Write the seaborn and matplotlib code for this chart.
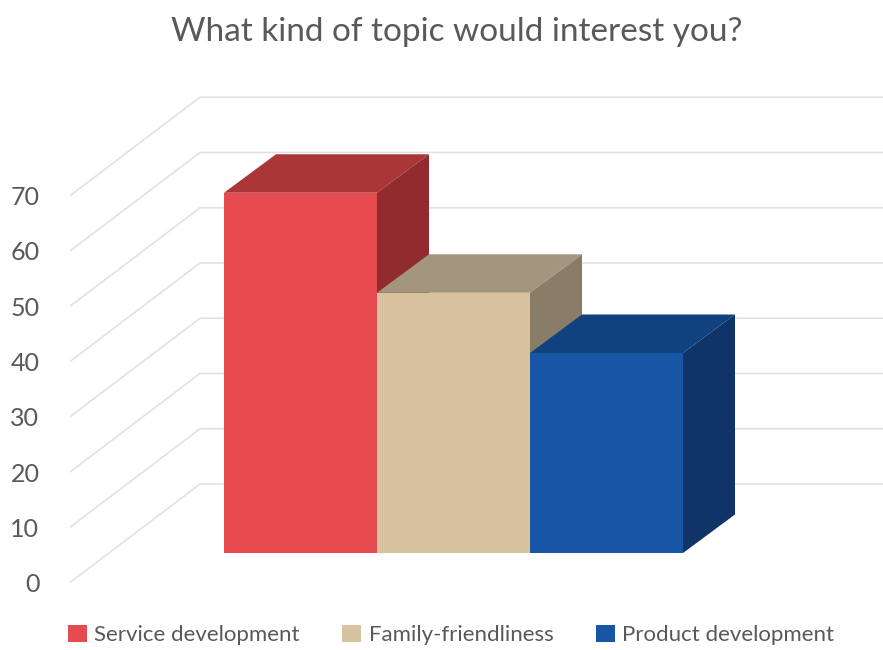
import matplotlib
matplotlib.use("Agg")
import matplotlib.pyplot as plt
import pandas as pd
import seaborn as sns

TOPICS = ["Service development", "Family-friendliness", "Product development"]
SHARES = [65.2, 47.1, 36.2]
FRONT = ["#E54B4F", "#D9C2A0", "#1656A5"]
TOPS = ["#AB3638", "#A4967E", "#11417F"]
SIDES = ["#922B2E", "#8A7D68", "#0F3568"]
TICKS = [0, 10, 20, 30, 40, 50, 60, 70]

W, H = 883, 650
TEXT = "#595959"
GRID = "#E1E1E1"
PX_Y = 5.525
PX_X = 153.0
FLOOR = 29.5 / PX_Y        # front edge of the bars above the chart's zero line
DEPTH_X = 52 / PX_X
DEPTH_Y = 38.5 / PX_Y
WALL_X = 130 / PX_X
WALL_Y = 98.5 / PX_Y

sns.set_theme(style="white")
plt.rcParams["font.family"] = ["Lato", "DejaVu Sans"]

fig = plt.figure(figsize=(W / 100, H / 100), dpi=100)
left, right, top, bottom = 70, 883, 90, 582.5
ax = fig.add_axes([left / W, 1 - bottom / H, (right - left) / W, (bottom - top) / H])

# x=0 is the centre of the first bar, which sits at pixel 300.5
x_min = (left - 300.5) / PX_X
ax.set_xlim(x_min, x_min + (right - left) / PX_X)
ax.set_ylim(0, (bottom - top) / PX_Y)

# Walls: slanted side-wall rules joined to horizontal back-wall rules
x_end = ax.get_xlim()[1]
for t in TICKS:
    ax.plot([x_min, x_min + WALL_X, x_end], [t, t + WALL_Y, t + WALL_Y],
            color=GRID, lw=1.2, zorder=1, solid_joinstyle="miter")

frame = pd.DataFrame({"topic": TOPICS, "share": SHARES})
sns.barplot(data=frame, x=range(len(TOPICS)), y="share", hue="topic", palette=FRONT,
            width=1, dodge=False, bottom=FLOOR, saturation=1, native_scale=True,
            legend=False, ax=ax, zorder=4, linewidth=0)

# Extruded top and side faces of each bar
for i, (v, ct, cs) in enumerate(zip(SHARES, TOPS, SIDES)):
    x0, x1 = i - 0.5, i + 0.5
    y0, y1 = FLOOR, FLOOR + v
    ax.fill([x0, x1, x1 + DEPTH_X, x0 + DEPTH_X], [y1, y1, y1 + DEPTH_Y, y1 + DEPTH_Y],
            color=ct, lw=0, zorder=3)
    ax.fill([x1, x1 + DEPTH_X, x1 + DEPTH_X, x1], [y0, y0 + DEPTH_Y, y1 + DEPTH_Y, y1],
            color=cs, lw=0, zorder=3)

ax.set_xticks([])
ax.set_xlabel("")
ax.set_ylabel("")
ax.set_yticks(TICKS)
ax.set_yticklabels([str(t) for t in TICKS], fontsize=18, color=TEXT)
ax.tick_params(axis="y", length=0, pad=22)
sns.despine(ax=ax, left=True, bottom=True)

fig.text(457 / W, 1 - 32 / H, "What kind of topic would interest you?", ha="center",
         va="center", fontsize=24, color=TEXT)

# Legend row below the plot
handles = [plt.Rectangle((0, 0), 1, 1, color=c, lw=0) for c in FRONT]
fig.legend(handles, TOPICS, loc="center", bbox_to_anchor=(451 / W, 1 - 635 / H), ncol=3,
           frameon=False, fontsize=16, labelcolor=TEXT, handlelength=0.85, handleheight=0.85,
           handletextpad=0.35, columnspacing=1.9, borderpad=0)

fig.savefig("out.png", dpi=100)
